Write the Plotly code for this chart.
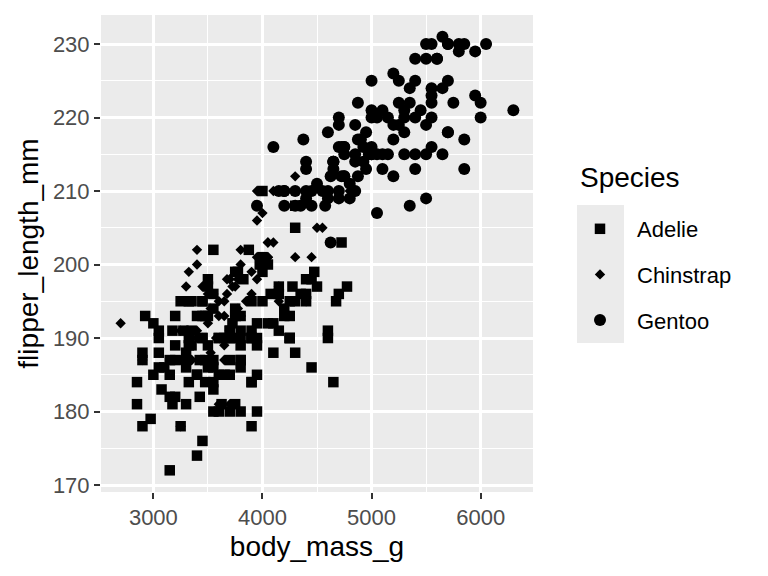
import plotly.graph_objects as go

# penguins: body mass (g) and flipper length (mm)
adelie_mass = [3750, 3800, 3250, 3450, 3650, 3625, 4675, 3475, 4250, 3300,
               3700, 3200, 3800, 4400, 3700, 3450, 4500, 3325, 4200, 3400,
               3600, 3800, 3950, 3800, 3800, 3550, 3200, 3150, 3950, 3250,
               3900, 3300, 3900, 3325, 4150, 3950, 3550, 3300, 4650, 3150,
               3900, 3100, 4400, 3000, 4600, 3425, 2975, 3450, 4150, 3500,
               4300, 3450, 4050, 2900, 3700, 3550, 3800, 2850, 3750, 3150,
               4400, 3600, 4050, 2850, 3950, 3350, 4100, 3050, 4450, 3600,
               3900, 3550, 4150, 3700, 4250, 3700, 3900, 3550, 4000, 3200,
               4700, 3800, 4200, 3350, 3550, 3800, 3500, 3950, 3600, 3550,
               4300, 3400, 4450, 3300, 4300, 3700, 4350, 2900, 4100, 3725,
               4725, 3075, 4250, 2925, 3550, 3750, 3900, 3175, 4775, 3825,
               4600, 3200, 4275, 3900, 4075, 2900, 3775, 3350, 3325, 3150,
               3500, 3450, 3875, 3050, 4000, 3275, 4300, 3050, 4000, 3325,
               3500, 3500, 4475, 3425, 3900, 3175, 3975, 3400, 4250, 3400,
               3475, 3050, 3725, 3000, 3650, 4250, 3475, 3450, 3750, 3700,
               4000]
adelie_flipper = [181, 186, 195, 193, 190, 181, 195, 193, 190, 186,
                  180, 182, 191, 198, 185, 195, 197, 184, 194, 174,
                  180, 189, 185, 180, 187, 183, 187, 172, 180, 178,
                  178, 188, 184, 195, 196, 190, 180, 181, 184, 182,
                  195, 186, 196, 185, 190, 182, 179, 190, 191, 186,
                  188, 190, 200, 187, 191, 186, 193, 181, 194, 185,
                  195, 185, 192, 184, 192, 195, 188, 190, 198, 190,
                  190, 196, 197, 190, 195, 191, 184, 187, 195, 189,
                  196, 187, 193, 191, 194, 190, 189, 189, 190, 202,
                  205, 185, 186, 187, 208, 190, 196, 178, 192, 192,
                  203, 183, 190, 193, 184, 199, 190, 181, 197, 198,
                  191, 193, 197, 191, 196, 188, 199, 189, 189, 187,
                  198, 176, 202, 186, 199, 191, 195, 191, 210, 190,
                  197, 193, 199, 187, 190, 191, 200, 185, 193, 193,
                  187, 188, 190, 192, 185, 190, 184, 195, 193, 187,
                  201]

chinstrap_mass = [3500, 3900, 3650, 3525, 3725, 3950, 3250, 3750, 4150, 3700,
                  3800, 3775, 3700, 4050, 3575, 4050, 3300, 3700, 3450, 4400,
                  3600, 3400, 2900, 3800, 3300, 4150, 3400, 3800, 3700, 4550,
                  3200, 4300, 3350, 4100, 3600, 3900, 3850, 4800, 2700, 4500,
                  3950, 3650, 3550, 3500, 3675, 4450, 3400, 4300, 3250, 3675,
                  3325, 3950, 3600, 4050, 3350, 3450, 3250, 4050, 3800, 3525,
                  3950, 3650, 3650, 4000, 3400, 3775, 4100, 3775]
chinstrap_flipper = [192, 196, 193, 188, 197, 198, 178, 197, 195, 198,
                     193, 194, 185, 201, 190, 201, 197, 181, 190, 195,
                     181, 191, 187, 193, 195, 197, 200, 200, 191, 205,
                     187, 201, 187, 203, 195, 199, 195, 210, 192, 205,
                     210, 187, 196, 196, 196, 201, 190, 212, 187, 198,
                     199, 201, 193, 203, 187, 197, 191, 203, 202, 194,
                     206, 189, 195, 207, 202, 193, 210, 198]

gentoo_mass = [4500, 5700, 4450, 5700, 5400, 4550, 4800, 5200, 4400, 5150,
               4650, 5550, 4650, 5850, 4200, 5850, 4150, 6300, 4800, 5350,
               5700, 5000, 4400, 5050, 5000, 5100, 4100, 5650, 4600, 5550,
               5250, 4700, 5050, 6050, 5150, 5400, 4950, 5250, 4350, 5350,
               3950, 5700, 4300, 4750, 5550, 4900, 4200, 5400, 5100, 5300,
               4850, 5300, 4400, 5000, 4900, 5050, 4300, 5000, 4450, 5550,
               4200, 5300, 4400, 5650, 4700, 5700, 4650, 5800, 4700, 5550,
               4750, 5000, 5100, 5200, 4700, 5800, 4600, 6000, 4750, 5950,
               4625, 5450, 4725, 5350, 4750, 5600, 4600, 5300, 4875, 5550,
               4950, 5400, 4750, 5650, 4850, 5200, 4925, 4875, 4625, 5250,
               4850, 5600, 4975, 5500, 4725, 5500, 4700, 5500, 4575, 5500,
               5000, 5950, 4650, 5500, 4375, 5850, 4875, 6000, 4925, 4850,
               5750, 5200, 5400]
gentoo_flipper = [211, 230, 210, 218, 215, 210, 211, 219, 209, 215,
                  214, 216, 214, 213, 210, 217, 210, 221, 209, 222,
                  218, 215, 213, 215, 215, 215, 216, 215, 210, 220,
                  222, 209, 207, 230, 220, 220, 213, 219, 208, 208,
                  208, 225, 210, 216, 222, 217, 210, 225, 213, 215,
                  210, 220, 210, 225, 217, 220, 208, 220, 208, 224,
                  208, 221, 214, 231, 219, 230, 214, 229, 220, 223,
                  216, 221, 221, 217, 216, 230, 209, 220, 215, 223,
                  212, 221, 212, 224, 212, 228, 218, 218, 212, 230,
                  218, 228, 212, 224, 214, 226, 216, 222, 203, 225,
                  219, 228, 215, 228, 216, 215, 210, 219, 208, 209,
                  216, 229, 213, 230, 217, 230, 217, 222, 214, 215,
                  222, 212, 213]

species = ["Adelie", "Chinstrap", "Gentoo"]
x_ticks = [3000, 4000, 5000, 6000]
y_ticks = [170, 180, 190, 200, 210, 220, 230]

series = [
    (adelie_mass, adelie_flipper, "square", 10.5),
    (chinstrap_mass, chinstrap_flipper, "diamond", 8),
    (gentoo_mass, gentoo_flipper, "circle", 12),
]

fig = go.Figure()
for name, (xs, ys, sym, sz) in zip(species, series):
    fig.add_trace(go.Scatter(x=xs, y=ys, mode="markers", name=name,
                             legendgroup=name,
                             marker=dict(symbol=sym, size=sz, color="black",
                                         line=dict(width=0))))

# ggplot-like panel: 5% expansion of the data range
xmin, xmax = 2700, 6300
ymin, ymax = 172, 231
xpad = (xmax - xmin) * 0.05
ypad = (ymax - ymin) * 0.05

axis_common = dict(showgrid=True, gridcolor="white", gridwidth=2.6,
                   zeroline=False, showline=False,
                   ticks="outside", ticklen=6, tickwidth=2, tickcolor="#333333",
                   tickfont=dict(size=22, color="#4D4D4D"),
                   minor=dict(showgrid=True, gridcolor="white", gridwidth=1.3))

fig.update_xaxes(range=[xmin - xpad, xmax + xpad], tickvals=x_ticks,
                 minor_tickvals=[2500, 3500, 4500, 5500, 6500],
                 title=dict(text="body_mass_g", font=dict(size=28, color="black"), standoff=6),
                 **axis_common)
fig.update_yaxes(range=[ymin - ypad, ymax + ypad], tickvals=y_ticks,
                 minor_tickvals=[175, 185, 195, 205, 215, 225],
                 title=dict(text="flipper_length_mm", font=dict(size=28, color="black"), standoff=6),
                 **axis_common)

# panel edges in screen pixels; the page puts the figure 8 px in from the corner
OFF = 8
L, R, T, B = 101 - OFF, 533 - OFF, 15 - OFF, 492 - OFF
W, H = 768, 576

def px_to_paper(px, py):
    return (px - OFF - L) / (R - L), (B - (py - OFF)) / (B - T)

kx0, ky0 = px_to_paper(577, 205)
kx1, ky1 = px_to_paper(624, 343)
fig.add_shape(type="rect", xref="paper", yref="paper", x0=kx0, x1=kx1, y0=ky1, y1=ky0,
              fillcolor="#EBEBEB", line=dict(width=0), layer="below")

tx, ty = px_to_paper(578, 178)
fig.add_annotation(text="Species", xref="paper", yref="paper", x=tx, y=ty,
                   xanchor="left", yanchor="middle", showarrow=False,
                   font=dict(size=28, color="black"))

lx, ly = px_to_paper(563, 208)
fig.update_layout(
    width=W, height=H,
    margin=dict(l=L, r=W - R, t=T, b=H - B),
    paper_bgcolor="white", plot_bgcolor="#EBEBEB",
    font=dict(family="Liberation Sans, Arial, sans-serif", color="black"),
    showlegend=True,
    legend=dict(x=lx, y=ly, xanchor="left", yanchor="top",
                font=dict(size=22), traceorder="grouped", tracegroupgap=14,
                itemwidth=64, bgcolor="rgba(0,0,0,0)"),
)

fig.write_html("out.html")
